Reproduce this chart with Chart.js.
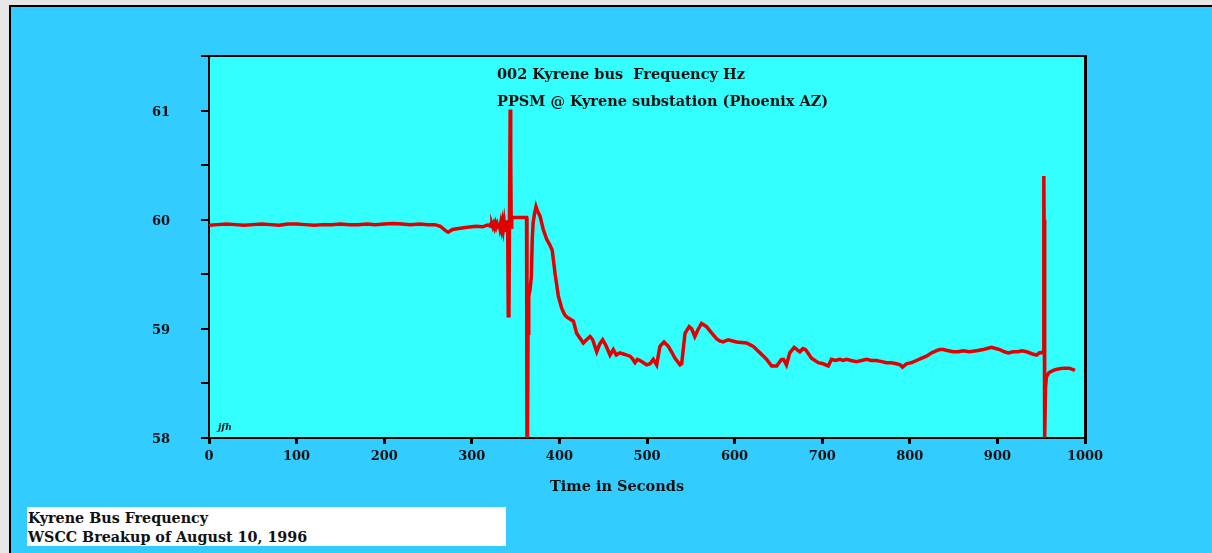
<!DOCTYPE html>
<html>
<head>
<meta charset="utf-8">
<script src="https://cdn.jsdelivr.net/npm/chart.js@4/dist/chart.umd.min.js"></script>
<style>
  html, body { margin:0; padding:0; overflow:hidden; background:#e6e6e6; }
  #wrap { position:relative; width:1212px; height:553px; }
  canvas { position:absolute; left:0; top:0; }
  .t { position:absolute; font:bold 14.5px "DejaVu Serif", serif; color:#111; white-space:pre; line-height:16px; }
  #foot { position:absolute; left:27px; top:507px; width:479px; height:39px; background:#fff; }
  #foot .t { font-size:14.3px; }
  #jfh { position:absolute; left:218px; top:422px; font:italic bold 9px "DejaVu Serif", serif; color:#111; }
</style>
</head>
<body>
<div id="wrap">
  <canvas id="c" width="1212" height="553"></canvas>
  <div class="t" style="left:497px; top:66px;">002 Kyrene bus  Frequency Hz</div>
  <div class="t" style="left:497px; top:93px;">PPSM @ Kyrene substation (Phoenix AZ)</div>
  <div class="t" id="xt" style="left:550px; top:478px;">Time in Seconds</div>
  <div id="foot">
    <div class="t" style="left:1px; top:3px;">Kyrene Bus Frequency</div>
    <div class="t" style="left:1px; top:22px;">WSCC Breakup of August 10, 1996</div>
  </div>
  <div id="jfh">jfh</div>
</div>
<script>
// ---- data ----
const timeSec = [
  0,10,20,30,40,50,60,70,80,90,100,110,120,130,140,150,160,170,180,190,200,210,220,230,240,250,258,
  264,270,273,278,285,295,305,312,318,
  320,321,322,323,324,325,326,327,328,329,330,331,332,333,334,335,336,337,338,338.5,339,339.5,340,340.5,341,
  341.6,342.4,343,343.8,344.4,345,345.6,362.5,363,363.6,364.2,365,366.5,368,369,370,371.5,373.3,375,378,381.6,385.5,389,
  391.8,395,398.8,402.6,406,408.3,412,416,419.7,423,427.3,431,435,438,442.6,446,449.4,453,457.8,461.5,
  465,469,473,477,480.6,483,486.3,489,492,496,499.6,503.4,507.2,511,514.8,519.4,524.3,528,532,537.7,
  539.6,543.4,548.1,551,554.6,558,562.2,567.9,573,579.3,583,587,592.7,602.2,613.6,621.3,625,629,633,
  636.6,642.3,648,653.5,656,659.2,663,668,674.5,678,681,687.8,695.5,701,706.9,710.6,715,720.1,724,727.7,
  733,739.1,745,750.5,756,762,768,773.4,779,784.8,789,791.6,796.2,802,807.6,813,819,825,830.5,834,838,
  844,849.4,855,860.8,868,876,883.7,888,893.2,898,902.7,908,912.4,918,923.7,928,933.3,940,944.7,948,
  951.5,952.6,953,953.3,953.6,954.3,955,956,959,963.8,968,975.2,982,988.6
];
const freqHz = [
  59.95,59.955,59.96,59.955,59.95,59.955,59.96,59.955,59.95,59.96,59.96,59.955,59.95,59.955,59.955,59.96,59.955,59.955,59.96,59.955,59.96,59.965,59.96,59.955,59.96,59.955,59.955,
  59.94,59.9,59.885,59.91,59.92,59.93,59.94,59.935,59.95,
  59.945,59.955,59.94,59.96,59.935,59.96,59.93,59.965,59.935,59.96,59.93,59.97,59.925,59.97,59.92,59.975,59.915,59.98,59.91,59.985,59.905,59.99,59.9,59.995,59.89,
  59.12,59.15,59.98,61.01,60.6,59.93,60.02,60.02,58.0,58.0,58.96,59.3,59.36,59.48,59.82,59.97,60.05,60.12,60.08,60.03,59.91,59.82,59.77,
  59.72,59.51,59.30,59.19,59.13,59.11,59.09,59.07,58.96,58.92,58.87,58.9,58.93,58.9,58.79,58.86,58.9,58.85,58.76,58.81,
  58.76,58.78,58.77,58.76,58.75,58.73,58.69,58.72,58.71,58.69,58.67,58.68,58.72,58.67,58.84,58.88,58.84,58.79,58.73,58.67,
  58.68,58.96,59.02,59.0,58.93,58.99,59.05,59.02,58.97,58.91,58.89,58.88,58.90,58.88,58.87,58.84,58.81,58.78,58.75,
  58.72,58.66,58.66,58.72,58.72,58.67,58.78,58.83,58.79,58.82,58.81,58.73,58.69,58.68,58.66,58.72,58.71,58.72,58.71,58.72,
  58.71,58.70,58.71,58.72,58.71,58.71,58.70,58.69,58.69,58.68,58.67,58.65,58.68,58.69,58.71,58.73,58.75,58.78,58.80,58.81,58.81,
  58.80,58.79,58.79,58.80,58.79,58.80,58.81,58.82,58.83,58.82,58.81,58.79,58.78,58.79,58.79,58.8,58.79,58.77,58.76,58.78,
  58.78,58.8,60.4,60.0,58.0,58.0,58.47,58.56,58.6,58.62,58.63,58.64,58.64,58.62
];
const xTickValues = [0,100,200,300,400,500,600,700,800,900,1000];
const yTickLabels = [58,59,60,61];

const points = timeSec.map((t,i)=>({x:t, y:freqHz[i]}));

const framePlugin = {
  id:'frame',
  beforeDraw(chart){
    const {ctx, chartArea:a} = chart;
    ctx.save();
    ctx.fillStyle='#e6e6e6'; ctx.fillRect(0,0,1212,553);
    ctx.fillStyle='#33CCFF'; ctx.fillRect(10,5,1202,548);
    ctx.fillStyle='#000'; ctx.fillRect(9,5,1203,2); ctx.fillRect(9,5,2,548);
    ctx.fillStyle='#33FFFF'; ctx.fillRect(a.left,a.top,a.right-a.left,a.bottom-a.top);
    ctx.restore();
  },
  afterDraw(chart){
    const {ctx, chartArea:a} = chart;
    ctx.save();
    ctx.fillStyle='#000';
    ctx.fillRect(a.left-1, a.top-1, a.right-a.left+2, 2);
    ctx.fillRect(a.right-1, a.top-1, 3, a.bottom-a.top+2);
    ctx.restore();
  }
};

const tickFont = {family:'"DejaVu Serif", serif', size:13, weight:'bold'};

new Chart(document.getElementById('c'), {
  type:'line',
  data:{ datasets:[{
    data: points,
    borderColor:'#e00000',
    borderWidth:3.5,
    pointRadius:0,
    tension:0,
    fill:false
  }]},
  options:{
    responsive:false,
    animation:false,
    devicePixelRatio:1,
    layout:{ padding:{ left:0, top:56, right:127, bottom:0 } },
    plugins:{ legend:{display:false}, tooltip:{enabled:false}, title:{display:false} },
    scales:{
      x:{
        type:'linear', min:0, max:1000,
        afterBuildTicks(scale){ scale.ticks = xTickValues.map(v=>({value:v})); },
        afterFit(scale){ scale.height = 115; },
        grid:{ drawOnChartArea:false, drawTicks:true, tickLength:6, color:'#000', lineWidth:3 },
        border:{ display:true, color:'#000', width:2 },
        ticks:{ font:tickFont, color:'#111', padding:5, maxRotation:0, autoSkip:false,
          callback:(v)=> String(v) }
      },
      y:{
        type:'linear', min:58, max:61.5,
        ticks:{ stepSize:0.5, font:tickFont, color:'#111', padding:31, labelOffset:2,
          callback:(v)=> yTickLabels.includes(v) ? String(v) : '' },
        afterFit(scale){ scale.width = 209; },
        grid:{ drawOnChartArea:false, drawTicks:true, tickLength:8, color:'#000', lineWidth:2 },
        border:{ display:true, color:'#000', width:2 }
      }
    }
  },
  plugins:[framePlugin]
});
</script>
</body>
</html>
